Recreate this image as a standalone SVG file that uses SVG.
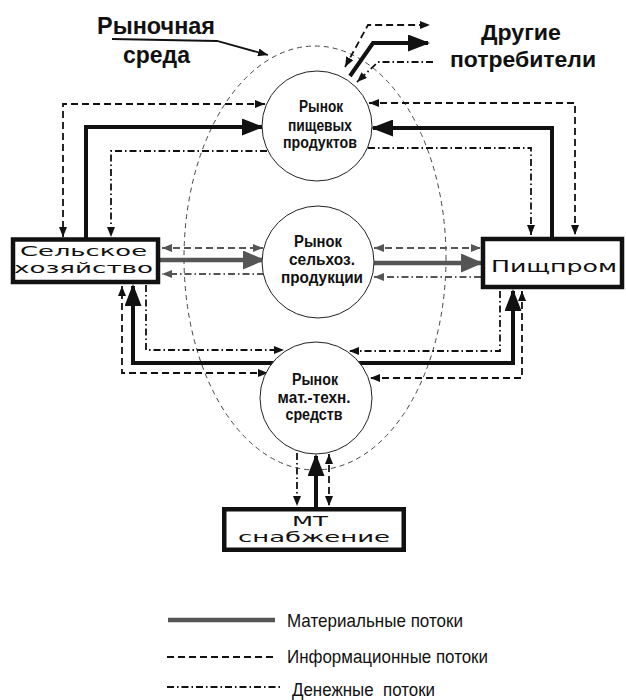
<svg xmlns="http://www.w3.org/2000/svg" width="626" height="700" viewBox="0 0 626 700">
<style>
.t{font-family:"Liberation Sans",Arial,sans-serif;fill:#111}
.b{font-weight:bold}
.w{font-family:"DejaVu Sans","Liberation Sans",sans-serif;fill:#111}
.box{fill:#fff;stroke:#111;stroke-width:4.5}
.circ{fill:#fff;stroke:#222;stroke-width:1}
.env{fill:none;stroke:#444;stroke-width:1;stroke-dasharray:5 4}
.mat{fill:none;stroke:#111;stroke-width:4}
.matg{fill:none;stroke:#555;stroke-width:4.5}
.info{fill:none;stroke:#111;stroke-width:1.8;stroke-dasharray:7 4}
.infog{fill:none;stroke:#555;stroke-width:1.8;stroke-dasharray:7 4}
.money{fill:none;stroke:#111;stroke-width:1.8;stroke-dasharray:7 3 1.5 3}
.moneyg{fill:none;stroke:#555;stroke-width:1.8;stroke-dasharray:7 3 1.5 3}
</style>
<defs>
<marker id="as" viewBox="0 0 10 8" refX="10" refY="4" markerWidth="10" markerHeight="8" markerUnits="userSpaceOnUse" orient="auto-start-reverse"><path d="M0,0L10,4L0,8z" fill="#111"/></marker>
<marker id="asg" viewBox="0 0 10 8" refX="10" refY="4" markerWidth="10" markerHeight="8" markerUnits="userSpaceOnUse" orient="auto-start-reverse"><path d="M0,0L10,4L0,8z" fill="#555"/></marker>
<marker id="al" viewBox="0 0 22 17" refX="20" refY="8.5" markerWidth="22" markerHeight="17" markerUnits="userSpaceOnUse" orient="auto"><path d="M0,0L22,8.5L0,17z" fill="#111"/></marker>
<marker id="alg" viewBox="0 0 22 19" refX="20" refY="9.5" markerWidth="22" markerHeight="19" markerUnits="userSpaceOnUse" orient="auto"><path d="M0,0L22,9.5L0,19z" fill="#555"/></marker>
</defs>
<rect width="626" height="700" fill="#fff"/>

<g id="market-env">
<ellipse class="env" cx="315" cy="258" rx="131" ry="212"/>
<text class="t b" x="97" y="34" font-size="23" textLength="118" lengthAdjust="spacingAndGlyphs">Рыночная</text>
<text class="t b" x="123" y="63" font-size="23" textLength="67" lengthAdjust="spacingAndGlyphs">среда</text>
<path d="M112,39 L217,41 L268,55" fill="none" stroke="#111" stroke-width="1.8" marker-end="url(#as)"/>
</g>

<g id="other-consumers">
<text class="t b" x="481" y="40" font-size="22" textLength="80" lengthAdjust="spacingAndGlyphs">Другие</text>
<text class="t b" x="450" y="67" font-size="22" textLength="146" lengthAdjust="spacingAndGlyphs">потребители</text>
</g>

<g id="connectors">
<path class="info" d="M345,67 L368,25 H430" marker-start="url(#as)" marker-end="url(#as)"/>
<path class="mat" d="M350,76 L373,43 H428" marker-end="url(#al)"/>
<path class="money" d="M433,62 H378 L357,82" marker-end="url(#as)"/>
<path class="info" d="M265,104 H63 V237" marker-start="url(#as)" marker-end="url(#as)"/>
<path class="mat" d="M86,238 V127 H262" marker-end="url(#al)"/>
<path class="money" d="M267,151 H111 V237" marker-end="url(#as)"/>
<path class="info" d="M369,103 H575 V235" marker-start="url(#as)" marker-end="url(#as)"/>
<path class="mat" d="M552,237 V128 H373" marker-end="url(#al)"/>
<path class="money" d="M368,148 H531 V235" marker-end="url(#as)"/>
<path class="infog" d="M162,248 H263" marker-start="url(#asg)" marker-end="url(#asg)"/>
<path class="matg" d="M160,260 H263" marker-end="url(#alg)"/>
<path class="moneyg" d="M264,274 H162" marker-end="url(#asg)"/>
<path class="infog" d="M374,248 H481" marker-start="url(#asg)" marker-end="url(#asg)"/>
<path class="matg" d="M374,263 H481" marker-end="url(#alg)"/>
<path class="moneyg" d="M481,277 H374" marker-end="url(#asg)"/>
<path class="mat" d="M274,363 H133 V286" marker-end="url(#al)"/>
<path class="money" d="M146,285 V350 H284" marker-end="url(#as)"/>
<path class="info" d="M268,373 H122 V286" marker-start="url(#as)" marker-end="url(#as)"/>
<path class="mat" d="M358,363 H513 V291" marker-end="url(#al)"/>
<path class="money" d="M500,291 V351 H349" marker-end="url(#as)"/>
<path class="info" d="M522,291 V378 H370" marker-start="url(#as)" marker-end="url(#as)"/>
<path class="money" d="M297,453 V506" marker-end="url(#as)"/>
<path class="mat" d="M316,507 V456" marker-end="url(#al)"/>
<path class="info" d="M329,454 V506" marker-start="url(#as)" marker-end="url(#as)"/>
</g>

<g id="food-market">
<circle class="circ" cx="317" cy="126" r="55"/>
<text class="t b" x="321" y="112" font-size="16" text-anchor="middle" textLength="44" lengthAdjust="spacingAndGlyphs">Рынок</text>
<text class="t b" x="320" y="131" font-size="16" text-anchor="middle" textLength="64" lengthAdjust="spacingAndGlyphs">пищевых</text>
<text class="t b" x="320" y="148" font-size="16" text-anchor="middle" textLength="74" lengthAdjust="spacingAndGlyphs">продуктов</text>
</g>

<g id="agri-market">
<circle class="circ" cx="318" cy="262" r="56"/>
<text class="t b" x="318" y="247" font-size="16" text-anchor="middle" textLength="48" lengthAdjust="spacingAndGlyphs">Рынок</text>
<text class="t b" x="322" y="265" font-size="16" text-anchor="middle" textLength="66" lengthAdjust="spacingAndGlyphs">сельхоз.</text>
<text class="t b" x="322" y="283" font-size="16" text-anchor="middle" textLength="82" lengthAdjust="spacingAndGlyphs">продукции</text>
</g>

<g id="mt-market">
<circle class="circ" cx="316" cy="398" r="56"/>
<text class="t b" x="315" y="385" font-size="16" text-anchor="middle" textLength="46" lengthAdjust="spacingAndGlyphs">Рынок</text>
<text class="t b" x="314" y="403" font-size="16" text-anchor="middle" textLength="73" lengthAdjust="spacingAndGlyphs">мат.-техн.</text>
<text class="t b" x="314" y="420" font-size="16" text-anchor="middle" textLength="57" lengthAdjust="spacingAndGlyphs">средств</text>
</g>

<g id="agriculture">
<rect class="box" x="13" y="239.5" width="145" height="42.5"/>
<text class="w" x="20" y="256" font-size="14" textLength="127" lengthAdjust="spacingAndGlyphs">Сельское</text>
<text class="w" x="14" y="273" font-size="14" textLength="139" lengthAdjust="spacingAndGlyphs">хозяйство</text>
</g>

<g id="food-industry">
<rect class="box" x="483" y="239" width="139" height="48"/>
<text class="w" x="491" y="272" font-size="15" textLength="126" lengthAdjust="spacingAndGlyphs">Пищпром</text>
</g>

<g id="mt-supply">
<rect class="box" x="224.25" y="509.25" width="179.5" height="40.5"/>
<text class="w" x="292" y="526" font-size="13.5" textLength="36" lengthAdjust="spacingAndGlyphs">МТ</text>
<text class="w" x="238" y="542" font-size="13.5" textLength="152" lengthAdjust="spacingAndGlyphs">снабжение</text>
</g>

<g id="legend">
<line x1="168" y1="620" x2="275" y2="620" stroke="#555" stroke-width="4.5"/>
<text class="t" x="287" y="627" font-size="18.5" textLength="176" lengthAdjust="spacingAndGlyphs">Материальные потоки</text>
<line class="info" x1="167" y1="657" x2="277" y2="657"/>
<text class="t" x="287" y="663" font-size="18.5" textLength="201" lengthAdjust="spacingAndGlyphs">Информационные потоки</text>
<line class="money" x1="167" y1="687" x2="282" y2="687"/>
<text class="t" x="292" y="696" font-size="18.5" textLength="143" lengthAdjust="spacingAndGlyphs" xml:space="preserve">Денежные  потоки</text>
</g>
</svg>
